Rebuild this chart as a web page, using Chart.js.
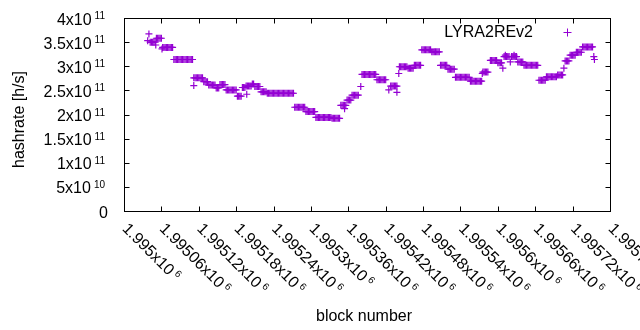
<!DOCTYPE html>
<html>
<head>
<meta charset="utf-8">
<script src="https://cdn.jsdelivr.net/npm/chart.js@4"></script>
<style>
  html, body { margin: 0; padding: 0; background: #fff; }
  canvas { display: block; }
</style>
</head>
<body>
<canvas id="hashrate-chart" width="640" height="330"></canvas>
<script>
// block numbers are stored as offsets from this base
const BLOCK_BASE = 1995000;

// one line per flat run of the series
const blockOffset = [
  38, 40,
  42, 44, 46, 48, 50, 51,
  52, 54, 56, 58, 60,
  61, 62, 64, 66, 68, 70, 72, 74, 76, 78,
  80, 82, 84, 86, 88, 90, 92, 94, 96, 98, 100, 102, 104, 106, 108, 110,
  112, 112, 114, 116, 118, 120, 122, 124, 126,
  128, 130, 132, 134,
  136, 138, 140, 142, 144, 146,
  148, 150, 152,
  154, 156, 158, 160, 162,
  164, 166, 168, 170, 172, 174, 176, 178, 180,
  182, 184, 186, 188,
  190, 192, 194, 197,
  196, 198, 200, 202, 204,
  206, 208,
  210, 212, 214, 216, 218,
  220, 222, 224, 226, 228,
  230, 232, 234, 236, 238, 240, 242, 244, 246, 248, 250, 252, 254, 256, 258, 260, 262, 264, 266, 268, 270, 272,
  274, 276, 278, 280, 282, 284, 286, 288, 290,
  292, 294, 296, 298, 300, 302, 304, 306,
  308, 310, 312, 314, 316, 318, 320, 322, 324, 326, 328, 330, 332,
  334, 336, 338, 340, 342, 344, 346,
  348, 350, 352, 354, 356, 354,
  358, 360, 362, 364,
  366, 368, 370, 372, 374, 376,
  380,
  382, 384, 386, 388, 390, 392, 394, 396, 398, 400, 402, 404,
  406, 408, 410, 412, 414, 416, 418, 420,
  425, 428, 430, 432, 434, 436, 438, 438, 441,
  442, 444, 446, 448, 450, 452, 454,
  456, 458, 460, 462, 464,
  466, 468, 470, 472, 474, 476,
  478, 480, 482, 484, 486, 488, 490, 492,
  494, 496, 498, 500, 502, 504, 506,
  508, 510, 512, 514, 516, 518,
  520, 522, 524, 526, 528, 530,
  532, 534, 536, 538, 540, 542, 544, 546, 548, 550, 552, 554,
  556, 558, 560, 562, 564, 566, 568, 570, 572, 574,
  575, 576, 578, 580, 582, 584,
  588, 590, 592, 594, 596, 598,
  600, 602, 604, 606, 608,
  610, 612, 614, 616, 618, 612,
  620,
  622, 624, 626, 628, 630, 626,
  632, 634, 636, 638, 640,
  642, 644, 646, 648, 650, 652, 654, 656, 658, 660, 662, 664,
  666, 668, 670, 672, 674, 676,
  678, 680, 682, 684, 686, 688, 690, 692, 694,
  696, 698, 700, 702, 704,
  706,
  708, 710, 712, 714,
  716, 718, 720, 722, 724,
  726, 728, 730, 732, 734,
  736, 738, 740, 742, 744, 746, 748, 750, 752,
  754, 755
];

// hashrate in GH/s (1e9 h/s), same order as blockOffset
const hashrateGH = [
  353, 367,
  350, 350, 350, 350, 350, 344,
  358, 358, 358, 358, 358,
  336, 339, 339, 339, 339, 339, 339, 339, 339, 339,
  314, 314, 314, 314, 314, 314, 314, 314, 314, 314, 314, 314, 314, 314, 314, 314,
  260, 276, 276, 276, 276, 276, 276, 276, 276,
  268, 268, 268, 268,
  261, 261, 261, 261, 261, 261,
  255, 255, 255,
  262, 262, 262, 262, 262,
  251, 251, 251, 251, 251, 251, 251, 251, 251,
  238, 238, 238, 238,
  256, 256, 256, 242,
  259, 259, 259, 259, 259,
  263, 263,
  258, 258, 258, 258, 258,
  247, 247, 247, 247, 247,
  244, 244, 244, 244, 244, 244, 244, 244, 244, 244, 244, 244, 244, 244, 244, 244, 244, 244, 244, 244, 244, 244,
  215, 215, 215, 215, 215, 215, 215, 215, 215,
  206, 206, 206, 206, 206, 206, 206, 206,
  194, 194, 194, 194, 194, 194, 194, 194, 194, 194, 194, 194, 194,
  192, 192, 192, 192, 192, 192, 192,
  219, 219, 219, 219, 219, 212,
  230, 230, 230, 230,
  240, 240, 240, 240, 240, 240,
  258,
  283, 283, 283, 283, 283, 283, 283, 283, 283, 283, 283, 283,
  272, 272, 272, 272, 272, 272, 272, 272,
  251, 259, 259, 259, 259, 259, 259, 246, 285,
  299, 299, 299, 299, 299, 299, 299,
  296, 296, 296, 296, 296,
  302, 302, 302, 302, 302, 302,
  334, 334, 334, 334, 334, 334, 334, 334,
  330, 330, 330, 330, 330, 330, 330,
  302, 302, 302, 302, 302, 302,
  294, 294, 294, 294, 294, 294,
  277, 277, 277, 277, 277, 277, 277, 277, 277, 277, 277, 277,
  269, 269, 269, 269, 269, 269, 269, 269, 269, 269,
  285, 288, 288, 288, 288, 288,
  312, 312, 312, 312, 312, 312,
  307, 307, 307, 307, 296,
  320, 320, 320, 320, 320, 323,
  309,
  320, 320, 320, 320, 320, 323,
  309, 309, 309, 309, 309,
  302, 302, 302, 302, 302, 302, 302, 302, 302, 302, 302, 302,
  271, 271, 271, 271, 271, 271,
  278, 278, 278, 278, 278, 278, 278, 278, 278,
  282, 282, 282, 282, 282,
  296,
  311, 311, 311, 311,
  323, 323, 323, 323, 323,
  329, 329, 329, 329, 329,
  340, 340, 340, 340, 340, 340, 340, 340, 340,
  320, 314
];

const seriesLabel = 'LYRA2REv2';

const xTickValues = [1995000, 1995060, 1995120, 1995180, 1995240, 1995300, 1995360,
                     1995420, 1995480, 1995540, 1995600, 1995660, 1995720, 1995780];
const xTickText = ['1.995x10', '1.99506x10', '1.99512x10', '1.99518x10', '1.99524x10', '1.9953x10', '1.99536x10',
                   '1.99542x10', '1.99548x10', '1.99554x10', '1.9956x10', '1.99566x10', '1.99572x10', '1.99578x10'];
const xTickPower = '6';

const yTickValues = [0, 5e10, 1e11, 1.5e11, 2e11, 2.5e11, 3e11, 3.5e11, 4e11];
const yTickText = ['0', '5x10', '1x10', '1.5x10', '2x10', '2.5x10', '3x10', '3.5x10', '4x10'];
const yTickPower = ['', '10', '11', '11', '11', '11', '11', '11', '11'];

const FONT = '16px "Liberation Sans", Arial, sans-serif';
const SUP_FONT = '10px "Liberation Sans", Arial, sans-serif';
const SUP_GAP = 3;
const COLOR = '#9400d3';

const points = blockOffset.map((b, i) => ({ x: BLOCK_BASE + b, y: hashrateGH[i] * 1e9 }));

// text with a raised exponent, left edge at (x, y baseline)
function drawPowerText(ctx, text, power, x, y) {
  ctx.font = FONT;
  ctx.textAlign = 'left';
  ctx.textBaseline = 'alphabetic';
  ctx.fillText(text, x, y);
  if (!power) return;
  const w = ctx.measureText(text).width + SUP_GAP;
  ctx.font = SUP_FONT;
  ctx.fillText(power, x + w, y - 5.5);
}

function powerTextWidth(ctx, text, power) {
  ctx.font = FONT;
  let w = ctx.measureText(text).width;
  if (power) {
    ctx.font = SUP_FONT;
    w += SUP_GAP + ctx.measureText(power).width;
  }
  return w;
}

const gnuplotFrame = {
  id: 'gnuplotFrame',
  afterDraw(chart) {
    const { ctx, chartArea: a, scales: { x, y } } = chart;
    const L = Math.round(a.left) + 0.5, R = Math.round(a.right) + 0.5;
    const T = Math.round(a.top) + 0.5, B = Math.round(a.bottom) + 0.5;
    ctx.save();
    ctx.strokeStyle = '#000';
    ctx.fillStyle = '#000';
    ctx.lineWidth = 1;
    ctx.strokeRect(L, T, R - L, B - T);

    // tick marks pointing inward on all four sides
    ctx.beginPath();
    yTickValues.forEach(v => {
      const py = Math.round(y.getPixelForValue(v)) + 0.5;
      ctx.moveTo(L, py); ctx.lineTo(L + 5, py);
      ctx.moveTo(R, py); ctx.lineTo(R - 5, py);
    });
    xTickValues.forEach(v => {
      const px = Math.round(x.getPixelForValue(v)) + 0.5;
      ctx.moveTo(px, B); ctx.lineTo(px, B - 5);
      ctx.moveTo(px, T); ctx.lineTo(px, T + 5);
    });
    ctx.stroke();

    // y tick labels
    yTickValues.forEach((v, i) => {
      const py = y.getPixelForValue(v);
      if (!yTickPower[i]) {
        ctx.font = FONT;
        ctx.textAlign = 'right';
        ctx.textBaseline = 'alphabetic';
        ctx.fillText(yTickText[i], 108, py + 6.5);
      } else {
        const w = powerTextWidth(ctx, yTickText[i], yTickPower[i]);
        drawPowerText(ctx, yTickText[i], yTickPower[i], 105 - w, py + 6.5);
      }
    });

    // x tick labels, rotated 45 degrees
    xTickValues.forEach((v, i) => {
      const px = x.getPixelForValue(v);
      ctx.save();
      ctx.translate(px + 1, 226);
      ctx.rotate(Math.PI / 4);
      drawPowerText(ctx, xTickText[i], xTickPower, 0, 5);
      ctx.restore();
    });

    // axis titles
    ctx.font = FONT;
    ctx.textAlign = 'center';
    ctx.textBaseline = 'alphabetic';
    ctx.fillText('block number', 364, 321);
    ctx.save();
    ctx.translate(24, (a.top + a.bottom) / 2 + 5);
    ctx.rotate(-Math.PI / 2);
    ctx.fillText('hashrate [h/s]', 0, 0);
    ctx.restore();

    // key inside the plot
    ctx.textAlign = 'right';
    ctx.fillText(seriesLabel, 533, 37);
    ctx.strokeStyle = COLOR;
    ctx.beginPath();
    ctx.moveTo(563.5, 32.5); ctx.lineTo(571.5, 32.5);
    ctx.moveTo(567.5, 28.5); ctx.lineTo(567.5, 36.5);
    ctx.stroke();
    ctx.restore();
  }
};

new Chart(document.getElementById('hashrate-chart'), {
  type: 'scatter',
  data: {
    datasets: [{
      label: seriesLabel,
      data: points,
      pointStyle: 'cross',
      pointRadius: 3.5,
      pointHoverRadius: 3.5,
      borderColor: COLOR,
      backgroundColor: COLOR,
      borderWidth: 1.2,
      showLine: false,
    }],
  },
  options: {
    responsive: false,
    animation: false,
    devicePixelRatio: 1,
    layout: { padding: { left: 124, right: 30, top: 18, bottom: 119 } },
    scales: {
      x: { type: 'linear', min: 1995000, max: 1995780, display: false },
      y: { type: 'linear', min: 0, max: 4e11, display: false },
    },
    plugins: {
      legend: { display: false },
      tooltip: { enabled: false },
    },
  },
  plugins: [gnuplotFrame],
});
</script>
</body>
</html>
